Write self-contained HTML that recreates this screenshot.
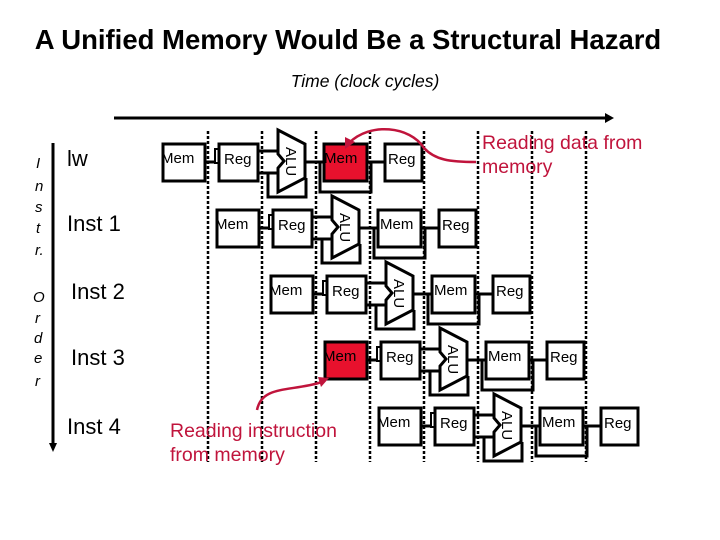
<!DOCTYPE html>
<html><head><meta charset="utf-8"><style>
html,body{margin:0;padding:0;background:#fff}
svg{display:block}
text{font-family:"Liberation Sans",sans-serif}
</style></head><body>
<svg width="720" height="540" viewBox="0 0 720 540" xmlns="http://www.w3.org/2000/svg">
<defs>
<g id="stage">
  <rect x="0" y="0" width="42" height="37" fill="#fff" stroke="#000" stroke-width="3"/>
  <line x1="42" y1="18" x2="53" y2="18" stroke="#000" stroke-width="3"/>
  <rect x="52" y="5" width="4" height="14" fill="#fff" stroke="#000" stroke-width="2"/>
  <rect x="56" y="0" width="39" height="37" fill="#fff" stroke="#000" stroke-width="3"/>
  <line x1="95" y1="7" x2="116" y2="7" stroke="#000" stroke-width="3"/>
  <line x1="95" y1="29" x2="116" y2="29" stroke="#000" stroke-width="3"/>
  <polyline points="105,29 105,53 143,53 143,34" fill="none" stroke="#000" stroke-width="3"/>
  <polygon points="115,-14 142,0 142,34 115,48 115,24 121,17 115,10" fill="#fff" stroke="#000" stroke-width="3"/>
  <text x="0" y="0" font-size="15" transform="translate(123,3) rotate(90)">ALU</text>
  <line x1="142" y1="18" x2="161" y2="18" stroke="#000" stroke-width="3"/>
  <polyline points="157,18 157,48 208,48 208,18" fill="none" stroke="#000" stroke-width="3"/>
  <rect x="161" y="0" width="43" height="37" fill="#fff" stroke="#000" stroke-width="3"/>
  <line x1="204" y1="18" x2="222" y2="18" stroke="#000" stroke-width="3"/>
  <rect x="222" y="0" width="37" height="37" fill="#fff" stroke="#000" stroke-width="3"/>
  <text x="-2" y="19" font-size="15">Mem</text>
  <text x="61" y="20" font-size="15">Reg</text>
  <text x="163" y="19" font-size="15">Mem</text>
  <text x="225" y="20" font-size="15">Reg</text>
</g>
</defs>

<text x="348" y="49" font-size="27.5" font-weight="bold" text-anchor="middle">A Unified Memory Would Be a Structural Hazard</text>
<text x="365" y="87" font-size="17.5" font-style="italic" text-anchor="middle">Time (clock cycles)</text>
<line x1="114" y1="118" x2="608" y2="118" stroke="#000" stroke-width="3"/>
<polygon points="614,118 605,113 605,123" fill="#000"/>

<g stroke="#000" stroke-width="2.5" stroke-dasharray="3,2">
  <line x1="208" y1="131" x2="208" y2="462"/>
  <line x1="262" y1="131" x2="262" y2="462"/>
  <line x1="316" y1="131" x2="316" y2="462"/>
  <line x1="370" y1="131" x2="370" y2="462"/>
  <line x1="424" y1="131" x2="424" y2="462"/>
  <line x1="478" y1="131" x2="478" y2="462"/>
  <line x1="532" y1="131" x2="532" y2="462"/>
  <line x1="586" y1="131" x2="586" y2="462"/>
</g>

<use href="#stage" x="163" y="144"/>
<use href="#stage" x="217" y="210"/>
<use href="#stage" x="271" y="276"/>
<use href="#stage" x="325" y="342"/>
<use href="#stage" x="379" y="408"/>

<rect x="324" y="144" width="43" height="37" fill="#e8112d" stroke="#000" stroke-width="3"/>
<text x="324" y="163" font-size="15">Mem</text>
<rect x="325" y="342" width="42" height="37" fill="#e8112d" stroke="#000" stroke-width="3"/>
<text x="323" y="361" font-size="15">Mem</text>

<line x1="53" y1="143" x2="53" y2="445" stroke="#000" stroke-width="3"/>
<polygon points="53,452 49,443 57,443" fill="#000"/>
<g font-size="15" font-style="italic">
<text x="36" y="168">I</text><text x="35" y="191">n</text><text x="35" y="212">s</text><text x="36" y="233">t</text><text x="35" y="255">r.</text>
<text x="33" y="302">O</text><text x="35" y="323">r</text><text x="34" y="343">d</text><text x="34" y="363">e</text><text x="35" y="386">r</text>
</g>
<g font-size="22">
<text x="67" y="166">lw</text>
<text x="67" y="231">Inst 1</text>
<text x="71" y="299">Inst 2</text>
<text x="71" y="365">Inst 3</text>
<text x="67" y="434">Inst 4</text>
</g>

<g fill="#c0143c" font-size="19.5">
<text x="482" y="149">Reading data from</text>
<text x="482" y="173">memory</text>
<text x="170" y="437">Reading instruction</text>
<text x="170" y="461">from memory</text>
</g>
<path d="M476,162 C450,162 435,160 424,148 C410,126 370,122 349,143" fill="none" stroke="#c0143c" stroke-width="2.5"/>
<polygon points="345,149 345,137 355,142" fill="#c0143c"/>
<path d="M257,410 C262,385 290,392 322,382" fill="none" stroke="#c0143c" stroke-width="2.5"/>
<polygon points="329,378 318,377 321,387" fill="#c0143c"/>
</svg>
</body></html>
